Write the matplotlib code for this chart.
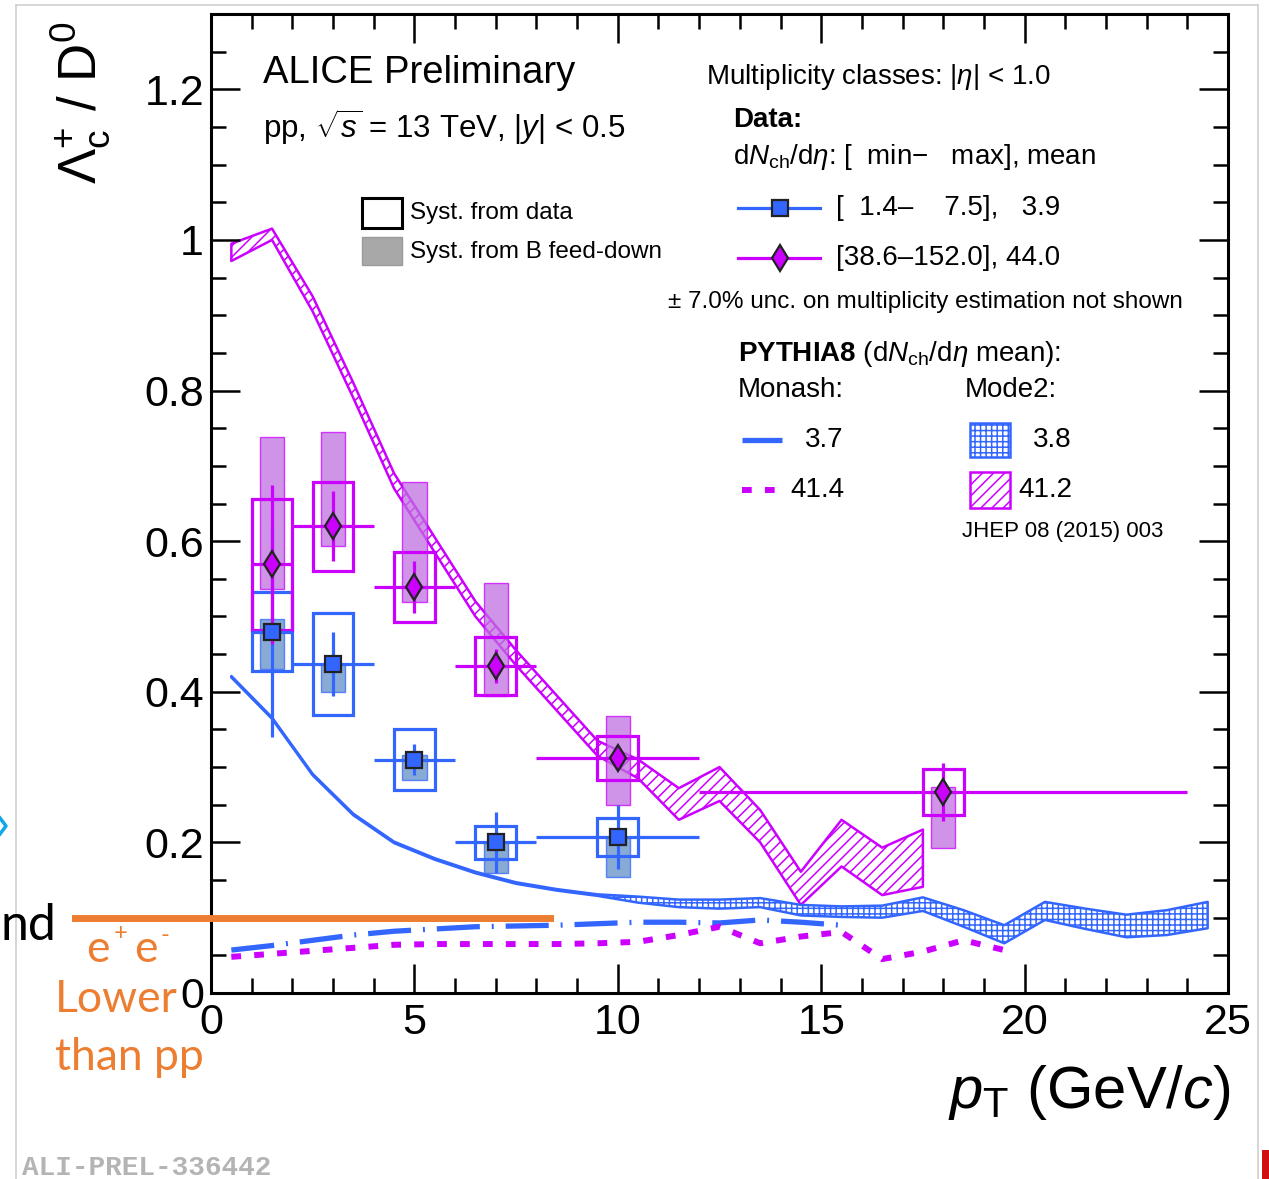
import numpy as np
import matplotlib
matplotlib.use('Agg')
import matplotlib.pyplot as plt
from matplotlib.patches import Rectangle

plt.rcParams['font.family'] = ['Liberation Sans', 'DejaVu Sans']
plt.rcParams['mathtext.fontset'] = 'custom'
plt.rcParams['mathtext.rm'] = 'Liberation Sans'
plt.rcParams['mathtext.it'] = 'Liberation Sans:italic'
plt.rcParams['mathtext.bf'] = 'Liberation Sans:bold'
plt.rcParams['hatch.linewidth'] = 1.1
plt.rcParams['lines.scale_dashes'] = False

BLUE = '#3366ff'
MAG = '#cc00ff'
ORANGE = '#ed7d31'

# --- data: low multiplicity [1.4-7.5], mean 3.9 ---
pt_low = [1.5, 3, 5, 7, 10]
pt_low_lo = [1, 2, 4, 6, 8]
pt_low_hi = [2, 4, 6, 8, 12]
low_val = [0.48, 0.437, 0.31, 0.20, 0.207]
low_stat = [0.14, 0.043, 0.02, 0.04, 0.043]
low_syst = [0.052, 0.068, 0.04, 0.022, 0.025]
low_fd_up = [0.016, 0.0, 0.006, 0.0, 0.0]
low_fd_dn = [0.05, 0.037, 0.027, 0.04, 0.053]

# --- data: high multiplicity [38.6-152.0], mean 44.0 ---
pt_high = [1.5, 3, 5, 7, 10, 18]
pt_high_lo = [1, 2, 4, 6, 8, 12]
pt_high_hi = [2, 4, 6, 8, 12, 24]
high_val = [0.569, 0.62, 0.539, 0.434, 0.3125, 0.267]
high_stat = [0.105, 0.047, 0.035, 0.023, 0.015, 0.038]
high_syst = [0.087, 0.059, 0.046, 0.0385, 0.029, 0.03]
high_fd_up = [0.169, 0.125, 0.139, 0.111, 0.055, 0.007]
high_fd_dn = [0.033, 0.027, 0.02, 0.04, 0.0625, 0.074]

# --- PYTHIA8 Mode2, 41.2 (hatched band) ---
m2_high_x = [0.5, 1.5, 2.5, 3.5, 4.5, 5.5, 6.5, 7.5, 8.5, 9.5, 10.5, 11.5,
             12.5, 13.5, 14.5, 15.5, 16.5, 17.5]
m2_high_up = [0.995, 1.015, 0.925, 0.81, 0.69, 0.605, 0.52, 0.455, 0.395, 0.335,
              0.31, 0.272, 0.30, 0.243, 0.161, 0.23, 0.193, 0.217]
m2_high_lo = [0.972, 1.0, 0.905, 0.79, 0.67, 0.585, 0.50, 0.435, 0.375, 0.315,
              0.285, 0.23, 0.255, 0.20, 0.117, 0.168, 0.13, 0.141]

# --- PYTHIA8 Mode2, 3.8 (grid band) ---
m2_low_x = [0.5, 1.5, 2.5, 3.5, 4.5, 5.5, 6.5, 7.5, 8.5, 9.5, 10.5, 11.5, 12.5,
            13.5, 14.5, 15.5, 16.5, 17.5, 18.5, 19.5, 20.5, 21.5, 22.5, 23.5, 24.5]
m2_low_up = [0.421, 0.366, 0.291, 0.238, 0.201, 0.179, 0.161, 0.147, 0.138, 0.131,
             0.128, 0.124, 0.124, 0.126, 0.117, 0.115, 0.116, 0.127, 0.110, 0.090,
             0.121, 0.112, 0.104, 0.110, 0.121]
m2_low_lo = [0.419, 0.364, 0.289, 0.236, 0.199, 0.177, 0.159, 0.145, 0.136, 0.129,
             0.120, 0.114, 0.112, 0.114, 0.103, 0.101, 0.100, 0.109, 0.088, 0.066,
             0.097, 0.085, 0.074, 0.077, 0.086]

# --- PYTHIA8 Monash ---
mon_low_x = [0.5, 1.5, 2.5, 3.5, 4.5, 5.5, 6.5, 7.5, 8.5, 9.5, 10.5, 11.5, 12.5,
             13.5, 14.5, 15.5]
mon_low_y = [0.057, 0.063, 0.070, 0.077, 0.082, 0.085, 0.088, 0.089, 0.090, 0.092,
             0.094, 0.094, 0.093, 0.097, 0.094, 0.090]
mon_high_x = [0.5, 1.5, 2.5, 3.5, 4.5, 5.5, 6.5, 7.5, 8.5, 9.5, 10.5, 11.5, 12.5,
              13.5, 14.5, 15.5, 16.5, 17.5, 18.5, 19.5]
mon_high_y = [0.048, 0.052, 0.056, 0.060, 0.064, 0.065, 0.065, 0.065, 0.065, 0.066,
              0.068, 0.077, 0.088, 0.066, 0.075, 0.081, 0.045, 0.055, 0.070, 0.057]

W, H = 1269, 1179
fig = plt.figure(figsize=(W / 100, H / 100), dpi=100)
ax = fig.add_axes([211 / W, 1 - 993 / H, (1228 - 211) / W, (993 - 14) / H])

# models
ax.fill_between(m2_high_x, m2_high_lo, m2_high_up, facecolor='white', edgecolor=MAG,
                hatch='///', lw=1.8, zorder=1)
ax.fill_between(m2_low_x, m2_low_lo, m2_low_up, facecolor='white', edgecolor=BLUE,
                hatch='+++', lw=1.8, zorder=1)
ax.plot(mon_low_x, mon_low_y, color=BLUE, lw=3.8, dashes=[31, 8.6, 1.4, 8.6],
        solid_capstyle='butt', dash_capstyle='butt', zorder=1)
ax.plot(mon_high_x, mon_high_y, color=MAG, lw=4.3, dashes=[7, 9.5],
        dash_capstyle='butt', zorder=1)


def draw_data(x, lo, hi, val, stat, syst, fd_up, fd_dn, color, fdcolor, marker, ms):
    for xi, v, s, fu, fdn in zip(x, val, syst, fd_up, fd_dn):
        ax.add_patch(Rectangle((xi - 0.3, v - fdn), 0.6, fu + fdn, facecolor=fdcolor,
                               edgecolor=color, lw=1.0, alpha=0.75, zorder=2))
        ax.add_patch(Rectangle((xi - 0.5, v - s), 1.0, 2 * s, fill=False,
                               edgecolor=color, lw=2.3, zorder=3))
    xerr = [np.array(x) - np.array(lo), np.array(hi) - np.array(x)]
    ax.errorbar(x, val, xerr=xerr, yerr=stat, fmt='none', ecolor=color, elinewidth=2.3,
                capsize=0, zorder=4)
    ax.plot(x, val, ls='none', marker=marker, ms=ms, mfc=color, mec='#222222', mew=1.6,
            zorder=5)


draw_data(pt_low, pt_low_lo, pt_low_hi, low_val, low_stat, low_syst, low_fd_up, low_fd_dn,
          BLUE, '#5f8fc8', 's', 11)
draw_data(pt_high, pt_high_lo, pt_high_hi, high_val, high_stat, high_syst, high_fd_up,
          high_fd_dn, MAG, '#c070e0', 'd', 13)

ax.set_xlim(0, 25)
ax.set_ylim(0, 1.3)
ax.set_xticks([0, 5, 10, 15, 20, 25])
ax.set_xticks(np.arange(0, 25, 1), minor=True)
ax.set_yticks([0, 0.2, 0.4, 0.6, 0.8, 1.0, 1.2])
ax.set_yticklabels(['0', '0.2', '0.4', '0.6', '0.8', '1', '1.2'])
ax.set_yticks(np.arange(0, 1.3, 0.05), minor=True)
ax.tick_params(which='both', direction='in', top=True, right=True, width=1.8,
               labelsize=31, colors='black')
ax.tick_params(which='major', length=21)
ax.tick_params(which='minor', length=11)
ax.tick_params(axis='x', pad=7)
ax.tick_params(axis='y', pad=5)
for sp in ax.spines.values():
    sp.set_linewidth(2.2)

# overlay in pixel coordinates for texts and legend
ov = fig.add_axes([0, 0, 1, 1])
ov.set_xlim(0, W)
ov.set_ylim(H, 0)
ov.axis('off')

ov.text(80, 103, r'$\Lambda_{\rm c}^{+}$ / D$^{0}$', rotation=90, fontsize=38,
        ha='center', va='center')
ov.text(1230, 1092, r'$p_{\rm T}$ (GeV/$c$)', fontsize=43, ha='right', va='center')

ov.text(263, 73, 'ALICE Preliminary', fontsize=27.5, va='center')
ov.text(263, 127, r'pp, $\sqrt{s}$ = 13 TeV, $|y|$ < 0.5', fontsize=22.5, va='center')

ov.add_patch(Rectangle((362, 198), 40, 30, fill=False, ec='black', lw=2.2))
ov.text(410, 213, 'Syst. from data', fontsize=17.5, va='center')
ov.add_patch(Rectangle((362, 237), 40, 28, fc='#a8a8a8', ec='#999999', lw=1))
ov.text(410, 252, 'Syst. from B feed-down', fontsize=17.5, va='center')

fs = 20
ov.text(706, 77, r'Multiplicity classes: $|\eta|$ < 1.0', fontsize=fs, va='center')
ov.text(733, 120, 'Data:', fontsize=fs, va='center', weight='bold')
ov.text(733, 157, r'd$N_{\rm ch}$/d$\eta$: [  min$-$   max], mean', fontsize=fs, va='center')
ov.plot([738, 820], [208, 208], color=BLUE, lw=2.3)
ov.plot([780], [208], marker='s', ms=11, mfc=BLUE, mec='#222222', mew=1.6)
ov.text(836, 208, '[  1.4–    7.5],   3.9', fontsize=fs, va='center')
ov.plot([738, 820], [258, 258], color=MAG, lw=2.3)
ov.plot([780], [258], marker='d', ms=13, mfc=MAG, mec='#222222', mew=1.6)
ov.text(836, 258, '[38.6–152.0], 44.0', fontsize=fs, va='center')
ov.text(668, 302, '± 7.0% unc. on multiplicity estimation not shown', fontsize=17.5,
        va='center')
ov.text(738, 354, r'$\bf{PYTHIA8}$ (d$N_{\rm ch}$/d$\eta$ mean):', fontsize=fs, va='center')
ov.text(738, 390, 'Monash:', fontsize=fs, va='center')
ov.text(965, 390, 'Mode2:', fontsize=fs, va='center')
ov.plot([742, 782], [440, 440], color=BLUE, lw=3.8, solid_capstyle='butt')
ov.text(805, 440, '3.7', fontsize=fs, va='center')
ov.plot([742, 776], [490, 490], color=MAG, lw=4.3, dashes=[7, 9.5], dash_capstyle='butt')
ov.text(790, 490, '41.4', fontsize=fs, va='center')
ov.add_patch(Rectangle((970, 423), 40, 34, fc='white', ec=BLUE, hatch='+++', lw=1.8))
ov.text(1033, 440, '3.8', fontsize=fs, va='center')
ov.add_patch(Rectangle((970, 472), 40, 36, fc='white', ec=MAG, hatch='///', lw=1.8))
ov.text(1018, 490, '41.2', fontsize=fs, va='center')
ov.text(962, 532, 'JHEP 08 (2015) 003', fontsize=16, va='center')

ov.text(22, 1168, 'ALI-PREL-336442', fontsize=20, family='Liberation Mono',
        weight='bold', color='#b4b4b4', va='center')

# slide frame and cut-off slide elements
ov.plot([16, 1258], [5, 5], color='#d0d0d0', lw=1.2)
ov.plot([16, 16], [5, H], color='#d0d0d0', lw=1.2)
ov.plot([1258, 1258], [5, H], color='#d0d0d0', lw=1.2)
ov.plot([0, 6, 0], [818, 826, 834], color='#10a8e8', lw=2.5)
ov.add_patch(Rectangle((1262, 1150), 8, 30, fc='#d01010', ec='none'))
ov.text(0, 926, 'nd', fontsize=36, family='Lato', ha='left', va='center')

ov.plot([75, 550], [918, 918], color=ORANGE, lw=5)
ov.text(86, 950, 'e', fontsize=32, family='Lato', color=ORANGE, va='center')
ov.text(114, 934, '+', fontsize=17, family='Lato', color=ORANGE, va='center')
ov.text(134, 950, 'e', fontsize=32, family='Lato', color=ORANGE, va='center')
ov.text(160, 936, '-', fontsize=17, family='Lato', color=ORANGE, va='center')
ov.text(55, 1000, 'Lower', fontsize=32, family='Lato', color=ORANGE, va='center')
ov.text(55, 1058, 'than pp', fontsize=32, family='Lato', color=ORANGE, va='center')

fig.savefig('out.png', dpi=100)
